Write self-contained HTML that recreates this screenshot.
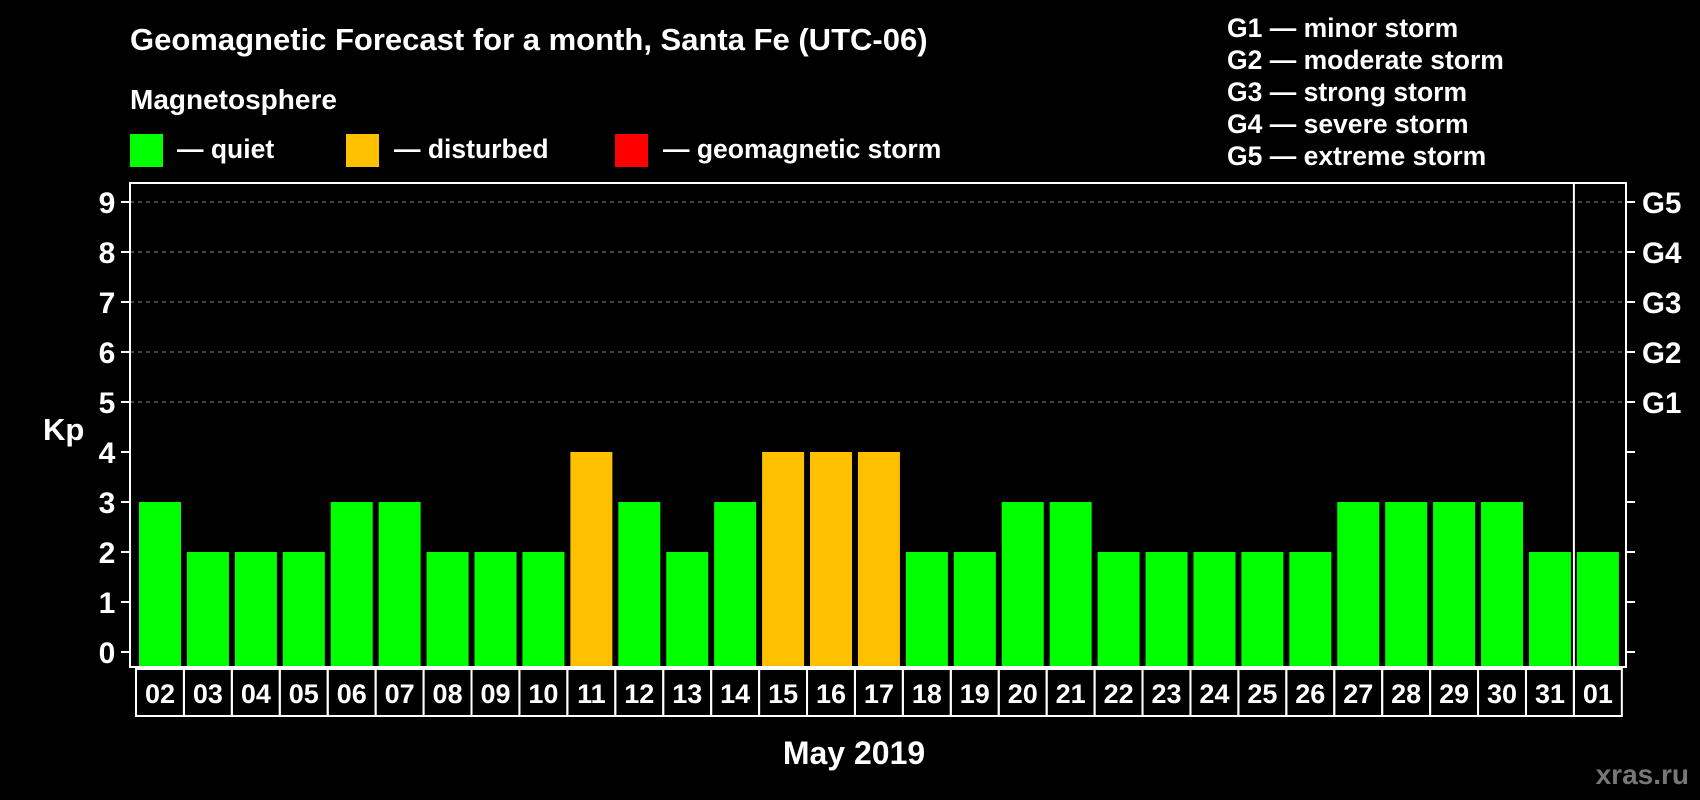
<!DOCTYPE html>
<html><head><meta charset="utf-8"><style>
html,body{margin:0;padding:0;background:#000;}
svg{display:block;font-family:"Liberation Sans",Arial,sans-serif;font-weight:bold;}
</style></head><body>
<svg id="c" width="1700" height="800" viewBox="0 0 1700 800">
<text x="130" y="50" fill="#fff" font-size="31">Geomagnetic Forecast for a month, Santa Fe (UTC-06)</text>
<text x="130" y="109" fill="#fff" font-size="28">Magnetosphere</text>
<rect x="130" y="134" width="33" height="33" fill="#00ff00"/>
<text x="177" y="158" fill="#fff" font-size="26.5">— quiet</text>
<rect x="346" y="134" width="33" height="33" fill="#ffc000"/>
<text x="394" y="158" fill="#fff" font-size="26.5">— disturbed</text>
<rect x="615" y="134" width="33" height="33" fill="#ff0000"/>
<text x="663" y="158" fill="#fff" font-size="26.5">— geomagnetic storm</text>
<g fill="#fff" font-size="26.5">
<text x="1227" y="37">G1 — minor storm</text>
<text x="1227" y="69">G2 — moderate storm</text>
<text x="1227" y="101">G3 — strong storm</text>
<text x="1227" y="133">G4 — severe storm</text>
<text x="1227" y="165">G5 — extreme storm</text>
</g>
<text x="43" y="440" fill="#fff" font-size="31">Kp</text>
<text x="854" y="764" fill="#fff" font-size="32" text-anchor="middle">May 2019</text>
<text x="1689" y="784" fill="#777" font-size="28" text-anchor="end">xras.ru</text>
<g id="grid"></g><g id="bars"></g><g id="axes"></g>
</svg>
<script>
const days=["02","03","04","05","06","07","08","09","10","11","12","13","14","15","16","17","18","19","20","21","22","23","24","25","26","27","28","29","30","31","01"];
const kp=[3,2,2,2,3,3,2,2,2,4,3,2,3,4,4,4,2,2,3,3,2,2,2,2,2,3,3,3,3,2,2];
const yTicks=[0,1,2,3,4,5,6,7,8,9];
const gLabels=["G1","G2","G3","G4","G5"];
const NS="http://www.w3.org/2000/svg";
const L=130,R=1626,T=183,B=667;
function y(v){return 652-v*50;}
function x(i){return 139+i*47.93;}
function mk(tag,attrs,parent,txt){const e=document.createElementNS(NS,tag);for(const k in attrs)e.setAttribute(k,attrs[k]);if(txt!==undefined)e.textContent=txt;parent.appendChild(e);return e;}
const grid=document.getElementById('grid'),bars=document.getElementById('bars'),axes=document.getElementById('axes');
yTicks.forEach(v=>{
 if(v>=5){const g=mk('line',{x1:L,x2:R,y1:y(v),y2:y(v),stroke:'#888','stroke-width':1,'stroke-dasharray':'4,4'},grid);
 
 }
 const t=mk('line',{x1:121,x2:L,y1:y(v),y2:y(v),stroke:'#fff','stroke-width':2},axes);
 
 
 const t2=mk('line',{x1:R,x2:1635,y1:y(v),y2:y(v),stroke:'#fff','stroke-width':2},axes);
 
 
 const l=mk('text',{x:107,y:y(v)+11,fill:'#fff','font-size':30,'text-anchor':'middle'},axes,String(v));
 
 
});
gLabels.forEach((g,i)=>{
 const l=mk('text',{x:1642,y:y(5+i)+11,fill:'#fff','font-size':29.5},axes,g);
 
 
});
kp.forEach((v,i)=>{
 const r=mk('rect',{x:x(i),y:y(v),width:42,height:B-1-y(v),fill:v>=5?'#ff0000':(v>=4?'#ffc000':'#00ff00')},bars);
 
 
 const b=mk('rect',{x:x(i)-3,y:669,width:47.93,height:47,fill:'none',stroke:'#fff','stroke-width':2},axes);
 
 
 const t=mk('text',{x:x(i)+21,y:703,fill:'#fff','font-size':27,'text-anchor':'middle'},axes,days[i]);
 
 
});
const f=mk('rect',{x:L,y:T,width:R-L,height:B-T,fill:'none',stroke:'#fff','stroke-width':2},axes);


const d=mk('line',{x1:x(30)-3,x2:x(30)-3,y1:T,y2:B,stroke:'#fff','stroke-width':2},axes);


</script>
</body></html>
